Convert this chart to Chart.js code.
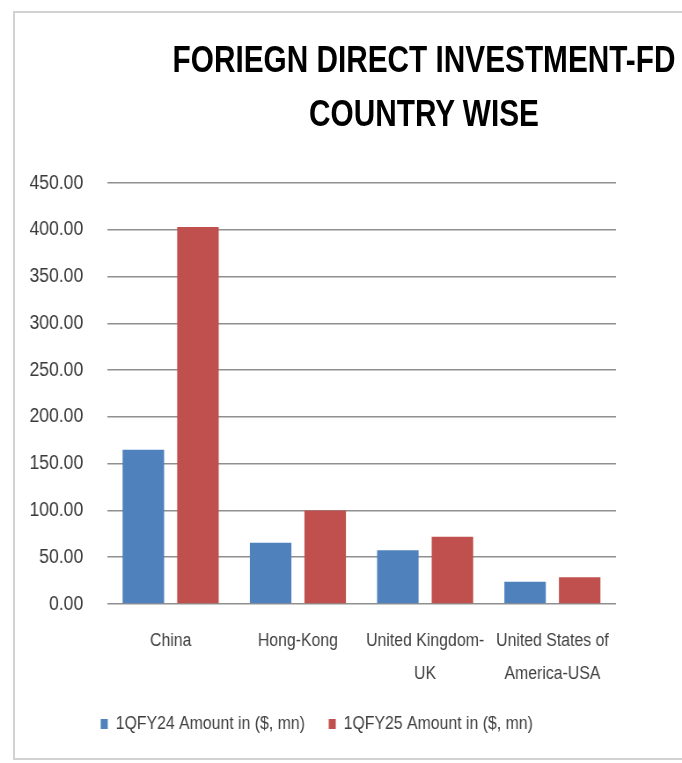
<!DOCTYPE html>
<html>
<head>
<meta charset="utf-8">
<script src="https://cdn.jsdelivr.net/npm/chart.js@4.4.1/dist/chart.umd.min.js"></script>
<style>
    html, body { margin: 0; padding: 0; background: #fff; overflow: hidden; }
    #wrap { position: relative; width: 682px; height: 763px; overflow: hidden; }
    #frame { position: absolute; left: 13px; top: 11px; width: 740px; height: 745px;
             border: 2px solid #d2d2d2; border-right: none; }
    /* the source picture is squeezed sideways, so the chart is drawn wider and narrowed */
    #squeeze { position: absolute; left: 0; top: 0; width: 775px; height: 763px;
               transform: scaleX(0.88); transform-origin: 0 0; }
    #title { position: absolute; left: 424px; top: 33px; transform: translateX(-50%) scaleX(0.827);
             white-space: nowrap; text-align: center; font-family: "Liberation Sans", sans-serif;
             font-weight: bold; font-size: 36px; line-height: 54px; color: #000; }
</style>
</head>
<body>
<div id="wrap">
    <div id="frame"></div>
    <div id="squeeze"><canvas id="fdi-chart" width="775" height="763"></canvas></div>
    <div id="title">FORIEGN DIRECT INVESTMENT-FD<br>COUNTRY WISE</div>
</div>
<script>
var countries = ['China', 'Hong-Kong', ['United Kingdom-', 'UK'], ['United States of', 'America-USA']];
var fy24 = [165, 65.6, 57.5, 23.9];
var fy25 = [403, 100, 71.8, 28.6];
var yTicks = [0, 50, 100, 150, 200, 250, 300, 350, 400, 450];

var face = '"Liberation Sans", Arial, sans-serif';

window.onload = function () {
    var fdiChart = new Chart(document.getElementById('fdi-chart'), {
        type: 'bar',
        data: {
            labels: countries,
            datasets: [
                {
                    label: '1QFY24 Amount in ($, mn)',
                    data: fy24,
                    backgroundColor: '#4F81BD'
                },
                {
                    label: '1QFY25 Amount in ($, mn)',
                    data: fy25,
                    backgroundColor: '#C0504D'
                }
            ]
        },
        options: {
            responsive: false,
            animation: false,
            layout: {
                padding: { top: 183, right: 75, bottom: 20, left: 20 }
            },
            datasets: {
                bar: { categoryPercentage: 0.858, barPercentage: 0.76 }
            },
            scales: {
                x: {
                    grid: { display: false },
                    border: { display: false },
                    ticks: {
                        color: '#404040',
                        padding: 13,
                        maxRotation: 0,
                        autoSkip: false,
                        font: { family: face, size: 18, lineHeight: 1.833 }
                    },
                    // tall enough that the second label line is not clipped
                    afterFit: function (scale) { scale.height = 84; }
                },
                y: {
                    min: 0,
                    max: 450,
                    afterBuildTicks: function (scale) {
                        scale.ticks = yTicks.map(function (v) { return { value: v }; });
                    },
                    grid: { color: '#8f8f8f', lineWidth: 1.6, drawTicks: false },
                    border: { display: false },
                    ticks: {
                        color: '#3a3a3a',
                        padding: 27,
                        font: { family: face, size: 20 },
                        callback: function (v) { return v.toFixed(2); }
                    },
                    afterFit: function (scale) { scale.width = 101.6; }
                }
            },
            plugins: {
                legend: {
                    position: 'bottom',
                    labels: {
                        color: '#404040',
                        boxWidth: 8,
                        boxHeight: 10,
                        padding: 27,
                        font: { family: face, size: 18 }
                    }
                },
                tooltip: { enabled: false }
            }
        }
    });
};
</script>
</body>
</html>
